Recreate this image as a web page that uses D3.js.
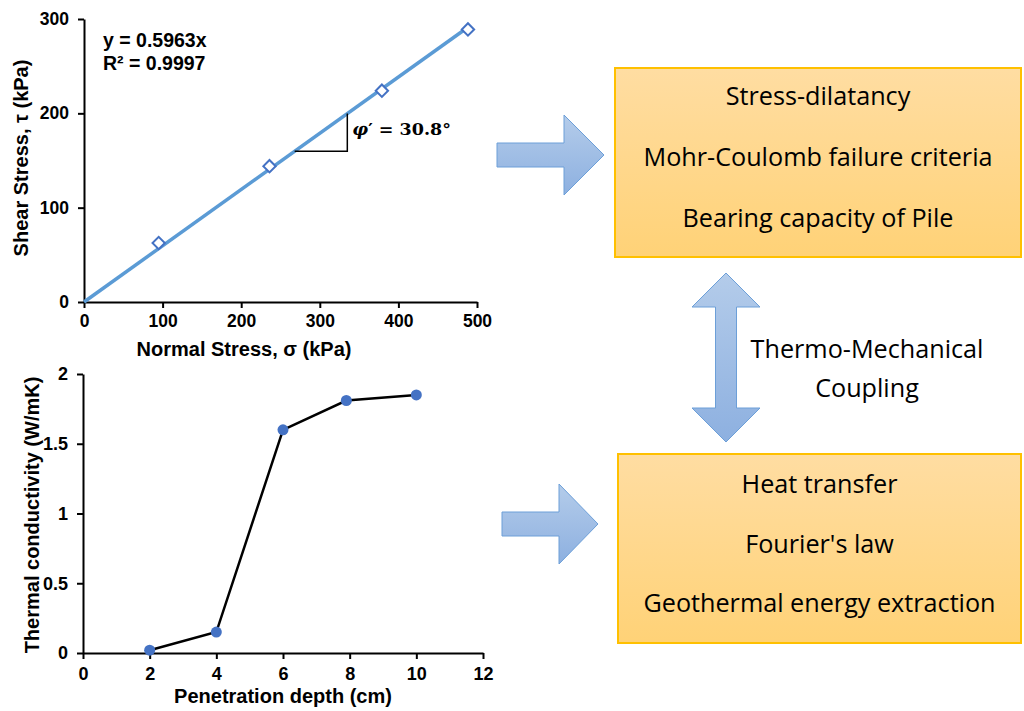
<!DOCTYPE html>
<html>
<head>
<meta charset="utf-8">
<script src="https://cdn.jsdelivr.net/npm/d3@7"></script>
<style>
  body { margin: 0; background: #fff; }
  .axis text { font-family: "Liberation Sans", Arial, sans-serif; font-weight: bold; fill: #000; }
  .axis .domain, .axis .tick line { stroke: #000; stroke-width: 2px; }
  .title { font-family: "Liberation Sans", Arial, sans-serif; font-weight: bold; font-size: 20px; }
  .box-text { font-family: "Open Sans", sans-serif; font-size: 25.2px; fill: #000; }
</style>
</head>
<body>
<div class="chart"></div>
<script>
// shear test (top chart)
const normalStress = [95, 236, 379, 488.5];
const shearStress = [62.5, 144, 224, 289];
const fitSlope = 0.5963;
const fitLabels = ['y = 0.5963x', 'R\u00b2 = 0.9997'];
const triangleX = [268, 335];
const topXTicks = [0, 100, 200, 300, 400, 500];
const topYTicks = [0, 100, 200, 300];

// thermal conductivity (bottom chart)
const depth = [2, 4, 6, 7.9, 10];
const conductivity = [0.02, 0.15, 1.6, 1.81, 1.85];
const botXTicks = [0, 2, 4, 6, 8, 10, 12];
const botYTicks = [0, 0.5, 1, 1.5, 2];

// diagram text
const mechanicalItems = ['Stress-dilatancy', 'Mohr-Coulomb failure criteria', 'Bearing capacity of Pile'];
const thermalItems = ['Heat transfer', "Fourier's law", 'Geothermal energy extraction'];
const couplingLabel = ['Thermo-Mechanical', 'Coupling'];

const width = 1024, height = 711;

const svg = d3.select('.chart')
    .append('svg')
    .attr('width', width)
    .attr('height', height);

const defs = svg.append('defs');
const boxGrad = defs.append('linearGradient').attr('id', 'boxGrad')
    .attr('x1', 0).attr('y1', 0).attr('x2', 0).attr('y2', 1);
boxGrad.append('stop').attr('offset', '0%').attr('stop-color', '#FFDDA2');
boxGrad.append('stop').attr('offset', '100%').attr('stop-color', '#FFD277');
const arrowGrad = defs.append('linearGradient').attr('id', 'arrowGrad')
    .attr('x1', 0).attr('y1', 0).attr('x2', 0).attr('y2', 1);
arrowGrad.append('stop').attr('offset', '0%').attr('stop-color', '#B4CCEA');
arrowGrad.append('stop').attr('offset', '100%').attr('stop-color', '#8DB0E0');

// ---------- top chart ----------
const xTop = d3.scaleLinear().domain([0, 500]).range([84, 477]);
const yTop = d3.scaleLinear().domain([0, 300]).range([302, 19]);

svg.append('g')
    .attr('class', 'axis')
    .attr('transform', `translate(0, ${yTop(0)})`)
    .call(d3.axisBottom(xTop).tickValues(topXTicks).tickSize(6).tickSizeOuter(0).tickPadding(7))
    .selectAll('text').style('font-size', '17.5px');

svg.append('g')
    .attr('class', 'axis')
    .attr('transform', `translate(${xTop(0)}, 0)`)
    .call(d3.axisLeft(yTop).tickValues(topYTicks).tickSize(6).tickSizeOuter(0).tickPadding(9))
    .selectAll('text').style('font-size', '17.5px');

// trendline
const maxX = d3.max(normalStress);
svg.append('line')
    .attr('x1', xTop(0)).attr('y1', yTop(0))
    .attr('x2', xTop(maxX)).attr('y2', yTop(fitSlope * maxX))
    .attr('stroke', '#5B9BD5')
    .attr('stroke-width', 3.5);

// markers
svg.selectAll()
    .data(normalStress)
    .enter()
    .append('path')
    .attr('d', d3.symbol(d3.symbolSquare, 76))
    .attr('transform', (d, i) => `translate(${xTop(d)},${yTop(shearStress[i])}) rotate(45)`)
    .attr('fill', '#fff')
    .attr('stroke', '#4472C4')
    .attr('stroke-width', 2);

// slope triangle
const tri = [
    [xTop(triangleX[0]), yTop(fitSlope * triangleX[0])],
    [xTop(triangleX[1]), yTop(fitSlope * triangleX[0])],
    [xTop(triangleX[1]), yTop(fitSlope * triangleX[1])]
];
svg.append('path')
    .attr('d', d3.line()(tri))
    .attr('fill', 'none')
    .attr('stroke', '#000')
    .attr('stroke-width', 1.5);

const phi = svg.append('text')
    .attr('x', tri[2][0] + 5)
    .attr('y', 135)
    .style('font-family', '"DejaVu Serif", serif')
    .style('font-weight', 'bold')
    .style('font-size', '17.5px')
    .attr('xml:space', 'preserve');
phi.append('tspan').style('font-style', 'italic').text('\u03c6');
phi.append('tspan').text('\u2032 = 30.8\u00b0');

svg.selectAll()
    .data(fitLabels)
    .enter()
    .append('text')
    .attr('class', 'title')
    .style('font-size', '19.5px')
    .attr('x', 103)
    .attr('y', (d, i) => 47 + i * 22.5)
    .text(d => d);

svg.append('text')
    .attr('class', 'title')
    .attr('x', 244)
    .attr('y', 356)
    .attr('text-anchor', 'middle')
    .text('Normal Stress, \u03c3 (kPa)');

svg.append('text')
    .attr('class', 'title')
    .attr('transform', 'translate(28,158) rotate(-90)')
    .attr('text-anchor', 'middle')
    .text('Shear Stress, \u03c4 (kPa)');

// ---------- bottom chart ----------
const xBot = d3.scaleLinear().domain([0, 12]).range([83, 483]);
const yBot = d3.scaleLinear().domain([0, 2]).range([653, 374]);

svg.append('g')
    .attr('class', 'axis')
    .attr('transform', `translate(0, ${yBot(0)})`)
    .call(d3.axisBottom(xBot).tickValues(botXTicks).tickSize(6).tickSizeOuter(0).tickPadding(8))
    .selectAll('text').style('font-size', '18px');

svg.append('g')
    .attr('class', 'axis')
    .attr('transform', `translate(${xBot(0)}, 0)`)
    .call(d3.axisLeft(yBot).tickValues(botYTicks).tickFormat(d3.format('')).tickSize(6).tickSizeOuter(0).tickPadding(9))
    .selectAll('text').style('font-size', '18px');

const botLine = d3.line()
    .x((d, i) => xBot(depth[i]))
    .y(d => yBot(d));

svg.append('path')
    .attr('d', botLine(conductivity))
    .attr('fill', 'none')
    .attr('stroke', '#000')
    .attr('stroke-width', 2.5);

svg.selectAll()
    .data(conductivity)
    .enter()
    .append('circle')
    .attr('cx', (d, i) => xBot(depth[i]))
    .attr('cy', d => yBot(d))
    .attr('r', 5.5)
    .attr('fill', '#4472C4');

svg.append('text')
    .attr('class', 'title')
    .attr('x', 283)
    .attr('y', 703)
    .attr('text-anchor', 'middle')
    .text('Penetration depth (cm)');

svg.append('text')
    .attr('class', 'title')
    .attr('transform', 'translate(39,515) rotate(-90)')
    .attr('text-anchor', 'middle')
    .text('Thermal conductivity (W/mK)');

// ---------- diagram ----------
function drawBox(x, y, w, h, items, baseY, gap) {
    svg.append('rect')
        .attr('x', x).attr('y', y)
        .attr('width', w).attr('height', h)
        .attr('fill', 'url(#boxGrad)')
        .attr('stroke', '#FFC000')
        .attr('stroke-width', 2);
    svg.selectAll()
        .data(items)
        .enter()
        .append('text')
        .attr('class', 'box-text')
        .attr('x', x + w / 2)
        .attr('y', (d, i) => baseY + i * gap)
        .attr('text-anchor', 'middle')
        .text(d => d);
}
drawBox(615, 68, 406, 189, mechanicalItems, 105, 61);
drawBox(618, 454, 403, 189, thermalItems, 493, 59.5);

function rightArrow(x0, x1, x2, cy, shaftH, headH) {
    const pts = [
        [x0, cy - shaftH / 2], [x1, cy - shaftH / 2], [x1, cy - headH / 2],
        [x2, cy], [x1, cy + headH / 2], [x1, cy + shaftH / 2], [x0, cy + shaftH / 2]
    ];
    svg.append('path')
        .attr('d', d3.line()(pts) + 'Z')
        .attr('fill', 'url(#arrowGrad)')
        .attr('stroke', '#6C9FD8')
        .attr('stroke-width', 1);
}
rightArrow(497, 564, 604, 155, 24, 80);
rightArrow(502, 559, 598, 524, 24, 80);

// double arrow
const cx = 726, shaftW = 21, headW = 68;
const dbl = [
    [cx, 273], [cx + headW / 2, 307], [cx + shaftW / 2, 307], [cx + shaftW / 2, 408],
    [cx + headW / 2, 408], [cx, 442], [cx - headW / 2, 408], [cx - shaftW / 2, 408],
    [cx - shaftW / 2, 307], [cx - headW / 2, 307]
];
svg.append('path')
    .attr('d', d3.line()(dbl) + 'Z')
    .attr('fill', 'url(#arrowGrad)')
    .attr('stroke', '#6C9FD8')
    .attr('stroke-width', 1);

svg.selectAll()
    .data(couplingLabel)
    .enter()
    .append('text')
    .attr('class', 'box-text')
    .attr('x', 867)
    .attr('y', (d, i) => 358 + i * 38.5)
    .attr('text-anchor', 'middle')
    .text(d => d);
</script>
</body>
</html>
